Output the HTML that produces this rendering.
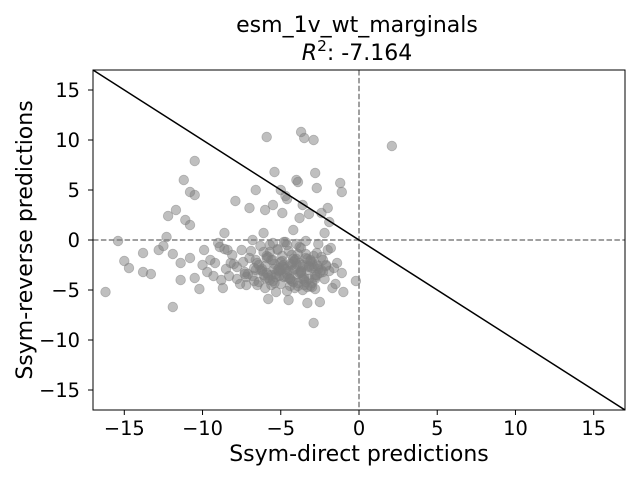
<!DOCTYPE html>
<html><head><meta charset="utf-8"><style>
body{margin:0;background:#fff}
svg text{font-family:"DejaVu Sans","Liberation Sans",sans-serif;fill:#000}
</style></head><body>
<svg width="640" height="480" xmlns="http://www.w3.org/2000/svg">
<text x="357" y="32" font-size="22" text-anchor="middle">esm_1v_wt_marginals</text>
<text x="357" y="60" font-size="22" text-anchor="middle"><tspan font-style="italic">R</tspan><tspan font-size="15.4" dy="-9">2</tspan><tspan dy="9">: -7.164</tspan></text>
<g id="points"></g>
<g id="lines"></g>
<rect x="93" y="70" width="532" height="340" fill="none" stroke="#000" stroke-width="1"/>
<g id="ticks"></g>
<text x="359" y="461" font-size="22" text-anchor="middle">Ssym-direct predictions</text>
<text x="0" y="0" font-size="22" text-anchor="middle" transform="translate(32,240) rotate(-90)">Ssym-reverse predictions</text>
</svg>
<script>
const xTicks=[-15,-10,-5,0,5,10,15];
const yTicks=[-15,-10,-5,0,5,10,15];
const xs=[-16.2,-15.4,-15,-14.7,-13.8,-13.8,-13.3,-12.8,-12.5,-12.3,-12.2,-11.9,-11.9,-11.7,-11.4,-11.4,-11.2,-11.1,-10.8,-10.5,-10.5,-10.8,-10.8,-10.5,-10.2,-10,-9.9,-9.7,-9.5,-9.2,-9,-8.8,-8.7,-8.6,-8.4,-8.2,-7.9,-7.8,-7.5,-7.3,-7.2,-7,-6.8,-6.6,-6.6,-6.5,-6.3,-6.1,-6,-5.9,-5.8,-5.6,-5.5,-5.4,-5.2,-5,-4.9,-4.7,-4.6,-4.5,-4.3,-4.2,-4.1,-4,-3.9,-3.8,-3.7,-3.6,-3.5,-3.3,-3.2,-2.9,-2.9,-2.8,-2.7,-2.5,-2.4,-2.2,-2,-1.9,-1.7,-1.2,-1.1,-1.1,-1,-0.2,2.1,
-6.5,-6.2,-6.0,-5.8,-5.5,-5.3,-5.1,-4.9,-4.7,-4.4,-4.2,-4.0,-3.8,-3.6,-3.4,-3.2,-3.0,-2.8,-2.6,-2.4,-6.4,-6.1,-5.7,-5.4,-5.0,-4.8,-4.5,-4.3,-3.9,-3.7,-3.5,-3.1,-2.9,-2.7,-2.3,-2.1,-6.3,-5.9,-5.6,-5.2,-4.9,-4.6,-4.1,-3.8,-3.3,-3.0,-2.6,-2.2,-7.1,-7.4,-7.8,-8.1,-8.5,-6.9,-7.6,-8.0,-8.3,-6.7,-5.5,-4.8,-4.0,-3.4,-2.8,-2.0,-1.6,-1.4,-1.8,-5.0,-4.4,-3.6,-6.0,-5.3,-4.6,-3.9,-3.2,-2.5,-7.2,-6.6,-5.8,-4.2,-3.3,-2.4,-1.5,-9.3,-8.9,-8.6,-5.7,-4.7,-3.7,-2.7,
-6.2,-5.9,-5.4,-5.1,-4.8,-4.5,-4.2,-3.9,-3.6,-3.3,-3.1,-2.8,-6.0,-5.6,-5.2,-4.9,-4.4,-4.0,-3.7,-3.4,-3.0,-2.7,-5.8,-5.3,-4.7,-4.3,-3.8,-3.5,-3.2,-2.9,-6.4,-6.1,-5.5,-5.0,-4.6,-4.1,-3.6,-3.1,-2.6,-5.7,-5.1,-4.5,-3.9,-3.4,-2.8,-4.8,-4.2,-3.7,-5.4,-6.7,-7.0,-7.3,-6.8,-2.3,-1.9,-2.1,-4.4,-3.5,-5.9,-3.0],
ys=[-5.2,-0.1,-2.1,-2.8,-1.3,-3.2,-3.4,-1,-0.6,0.3,2.4,-1.4,-6.7,3,-2.3,-4,6,2,4.8,4.5,7.9,1.5,-1.8,-3.8,-4.9,-2.5,-1,-3.2,-2,-2.3,-0.3,-4,-4.8,0.7,-1,-2.3,3.9,-2.7,-1,-3.2,-4.5,3.2,0,5,-2,-4.5,-3,0.7,3,10.3,-5.9,-3.5,3.5,6.8,-1,5,2.7,4.4,4.1,-6,-2.5,1,-4.8,6,5.8,2.2,10.8,3.5,10.2,-6.3,2.6,10,-8.3,6.7,5.2,-6.2,2.7,0.7,3.2,1.8,-4.8,5.7,4.8,-3.3,-5.2,-4.1,9.4,
-2.3,-3.1,-2.6,-3.8,-2.0,-3.4,-2.8,-1.6,-3.6,-2.4,-3.0,-1.9,-3.3,-2.7,-1.4,-3.9,-2.2,-3.5,-2.9,-1.7,-4.2,-1.2,-4.0,-2.9,-4.4,-3.7,-1.1,-4.1,-4.3,-0.8,-3.8,-4.6,-2.6,-1.3,-3.2,-2.5,-0.6,-1.8,-4.5,-0.9,-2.1,-0.5,-2.0,-0.7,-1.9,-4.7,-0.4,-3.9,-3.4,-2.2,-3.9,-1.5,-2.9,-1.1,-4.4,-2.4,-3.6,-4.1,-0.3,-0.2,-0.4,-0.1,-4.9,-1.0,-2.8,-2.3,-0.8,-3.0,-4.6,-5.0,-4.8,-5.2,-5.1,-4.6,-2.6,-3.3,-3.7,-3.0,-3.5,-4.2,-4.7,-3.0,-4.4,-3.6,-0.7,-0.9,-0.5,-0.2,-3.1,-2.5,
-2.9,-3.3,-2.4,-3.6,-2.7,-3.1,-2.2,-3.4,-2.5,-3.0,-2.1,-3.7,-3.8,-2.0,-3.0,-2.6,-3.9,-2.4,-3.2,-1.8,-2.8,-3.5,-1.7,-3.7,-2.9,-1.5,-2.3,-4.0,-2.7,-1.6,-2.5,-3.5,-4.1,-2.2,-3.4,-2.9,-3.9,-2.0,-2.6,-1.2,-3.1,-3.8,-1.4,-4.2,-3.9,-2.5,-1.9,-3.3,-4.3,-2.8,-1.8,-3.4,-3.6,-2.0,-3.1,-2.6,-3.9,-4.5,-1.6,-4.3];
const L=93,R=625,T=70,B=410,N='http://www.w3.org/2000/svg';
const sx=v=>L+(v+17)/34*(R-L), sy=v=>T+(17-v)/34*(B-T);
function mk(t,a,p){const e=document.createElementNS(N,t);for(const k in a)e.setAttribute(k,a[k]);p.appendChild(e);return e;}
const P=document.getElementById('points');
const n=Math.min(xs.length,ys.length);
for(let i=0;i<n;i++){
 const c=mk('circle',{cx:sx(xs[i]),cy:sy(ys[i]),r:4.8,fill:'#808080','fill-opacity':0.5,stroke:'#808080','stroke-opacity':0.5,'stroke-width':0.8},P);
 
 
}
const Lg=document.getElementById('lines');
const h=mk('line',{x1:L,x2:R,y1:sy(0),y2:sy(0),stroke:'#808080','stroke-width':1.5,'stroke-dasharray':'5.5,2.4'},Lg);


const v=mk('line',{x1:sx(0),x2:sx(0),y1:T,y2:B,stroke:'#808080','stroke-width':1.5,'stroke-dasharray':'5.5,2.4'},Lg);


const d=mk('line',{x1:sx(-17),y1:sy(17),x2:sx(17),y2:sy(-17),stroke:'#000','stroke-width':1.5},Lg);


const G=document.getElementById('ticks');
xTicks.forEach(t=>{const x=sx(t);mk('line',{x1:x,x2:x,y1:B,y2:B+5,stroke:'#000'},G);
 const e=mk('text',{x:x,y:435,'font-size':19.4,'text-anchor':'middle'},G);e.textContent=t<0?'\u2212'+(-t):t;
 
 });
yTicks.forEach(t=>{const y=sy(t);mk('line',{x1:L-5,x2:L,y1:y,y2:y,stroke:'#000'},G);
 const e=mk('text',{x:80,y:y+7,'font-size':19.4,'text-anchor':'end'},G);e.textContent=t<0?'\u2212'+(-t):t;
 
 });
</script>
</body></html>
